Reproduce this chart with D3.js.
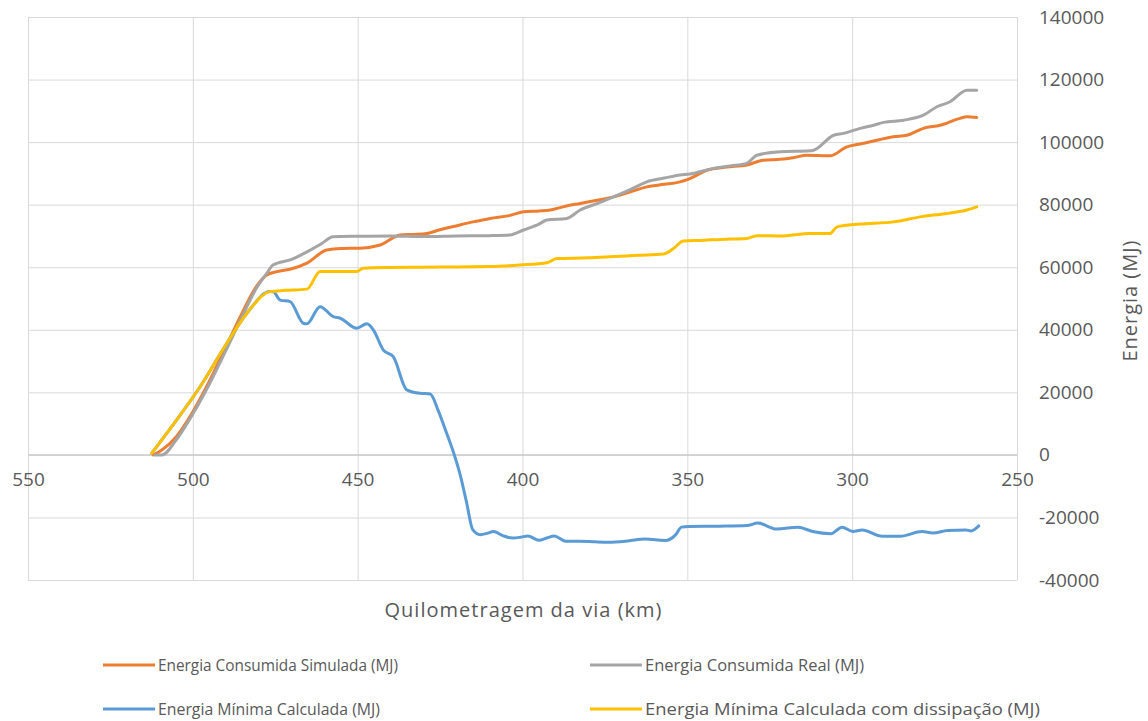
<!DOCTYPE html>
<html>
<head>
<meta charset="utf-8">
<script src="https://cdn.jsdelivr.net/npm/d3@7"></script>
<style>
  html, body { margin: 0; padding: 0; background: #ffffff; }
  svg { display: block; }
  text { font-family: "Open Sans", "Noto Sans", sans-serif; fill: #595959; }
</style>
</head>
<body>
<svg id="chart" width="1148" height="721"></svg>
<script>
// Axis ticks
const xTicks = [550, 500, 450, 400, 350, 300, 250];
const yTicks = [-40000, -20000, 0, 20000, 40000, 60000, 80000, 100000, 120000, 140000];

// Energia Consumida Simulada (MJ)
const kmSimulada = [512, 509.5, 505, 501, 496, 490, 485, 480.6, 477.6, 474.5, 470, 465.4, 459.4, 455, 449.3, 443.2, 437.1, 433.1, 429, 425, 421, 415, 409.8, 404, 399.7, 395, 391.6, 387, 382.5, 377, 372.4, 367, 362.3, 357, 352.2, 350.2, 347, 344.1, 338, 332, 326.9, 321.8, 318, 313.7, 306.7, 301.6, 298, 294.5, 287.5, 283.4, 278.4, 273.3, 267.3, 265.2, 262.2];
const energiaSimulada = [0, 1500, 5800, 12000, 21500, 34500, 45500, 54000, 57500, 58600, 59500, 61300, 65500, 66000, 66100, 67100, 70300, 70500, 70800, 72000, 73000, 74500, 75600, 76500, 77700, 78000, 78300, 79500, 80400, 81500, 82500, 84200, 85700, 86500, 87300, 87900, 89500, 91000, 92000, 92700, 94200, 94500, 95000, 95800, 95600, 98500, 99300, 100100, 101700, 102200, 104400, 105400, 107600, 108100, 107900];

// Energia Consumida Real (MJ)
const kmReal = [511.5, 509.4, 504.9, 500.9, 495.8, 489.7, 484.7, 480.6, 477.6, 475.7, 470, 465.4, 461, 457.5, 450, 440, 430, 420, 410, 403.8, 399.7, 395, 392.6, 386.6, 382.5, 377, 372.4, 367, 362.3, 357, 352.2, 349.2, 342.1, 337, 332, 328.9, 321.8, 312.7, 311.7, 305.6, 302.6, 297.6, 293.5, 290.5, 284.4, 278.4, 274.3, 270.3, 265.2, 262.2];
const energiaReal = [0, 0, 5000, 11500, 21000, 34000, 45000, 53500, 58000, 60700, 62500, 64900, 67500, 69750, 69900, 70000, 69800, 70000, 70100, 70300, 71900, 73800, 75100, 75600, 78300, 80500, 82500, 85000, 87300, 88500, 89500, 89800, 91600, 92400, 93200, 95800, 96900, 97200, 97400, 102200, 102800, 104400, 105400, 106300, 107000, 108600, 111300, 112900, 116600, 116600];

// Energia Mínima Calculada (MJ)
const kmMinima = [512.5, 504.9, 497.8, 489.7, 483.6, 476.6, 475.6, 473.5, 470.5, 466.5, 465.4, 461.4, 457.4, 455.3, 450.3, 447.2, 445.2, 442.2, 439.2, 435.1, 431.1, 428, 425.5, 423, 421, 419, 417, 415.1, 412.8, 410.5, 408.8, 406, 403, 400.5, 398.4, 395, 392.5, 390.4, 386.9, 382.8, 378, 373.9, 368, 362.8, 356.8, 353.5, 351.8, 349.6, 340, 331.9, 328.6, 323, 316.4, 312, 306.4, 303.1, 299.8, 297, 290.9, 285.4, 278.8, 275.5, 271.1, 265.5, 263.9, 261.6];
const energiaMinima = [500, 11200, 21800, 35700, 45300, 52200, 52170, 49500, 49000, 42100, 41900, 47400, 44200, 43700, 40500, 41900, 39900, 33500, 31400, 20800, 19700, 19500, 14000, 6900, 1000, -6000, -15000, -23900, -25500, -25000, -24500, -25800, -26600, -26300, -25900, -27300, -26500, -25900, -27600, -27600, -27800, -27900, -27500, -26900, -27400, -25500, -23100, -22900, -22800, -22600, -21800, -23700, -23100, -24500, -25200, -23100, -24500, -24000, -26000, -26000, -24500, -25000, -24200, -24000, -24300, -22700];

// Energia Mínima Calculada com dissipação (MJ)
const kmDissipacao = [512.5, 504.9, 497.8, 489.7, 483.6, 476.6, 472, 465.4, 461.4, 450.3, 448.3, 440, 430, 420, 409.8, 400.7, 392.6, 389.6, 380, 372.4, 365, 357.2, 354.2, 351.2, 345, 340, 332, 328.9, 321.8, 312.7, 306.7, 304.6, 297.6, 287.5, 279.4, 271.3, 265.2, 262.2];
const energiaDissipacao = [500, 11200, 21800, 35700, 45300, 52200, 52600, 53000, 58600, 58600, 59700, 59900, 60000, 60100, 60200, 60700, 61400, 62800, 63000, 63400, 63800, 64200, 66000, 68400, 68600, 68900, 69200, 70100, 70000, 70800, 70800, 72900, 73800, 74500, 76100, 77200, 78300, 79300];

const seriesNames = [
  "Energia Consumida Simulada (MJ)",
  "Energia Consumida Real (MJ)",
  "Energia Mínima Calculada (MJ)",
  "Energia Mínima Calculada com dissipação (MJ)"
];
const seriesColors = ["#ED7D31", "#A5A5A5", "#5B9BD5", "#FFC000"];

const series = [
  { name: seriesNames[0], color: seriesColors[0], km: kmSimulada, val: energiaSimulada },
  { name: seriesNames[1], color: seriesColors[1], km: kmReal, val: energiaReal },
  { name: seriesNames[2], color: seriesColors[2], km: kmMinima, val: energiaMinima },
  { name: seriesNames[3], color: seriesColors[3], km: kmDissipacao, val: energiaDissipacao }
];

const svg = d3.select("#chart");
const plot = { left: 28, right: 1017, top: 17, bottom: 580 };

const x = d3.scaleLinear().domain([550, 250]).range([plot.left, plot.right]);
const y = d3.scaleLinear().domain([-40000, 140000]).range([plot.bottom, plot.top]);

// Plain hyphen for negatives, no thousands separator
const fmt = d => String(d);

// Horizontal gridlines
svg.append("g")
  .attr("transform", `translate(${plot.left},0)`)
  .call(d3.axisLeft(y).tickValues(yTicks).tickSize(-(plot.right - plot.left)).tickFormat(""))
  .call(g => g.select(".domain").remove())
  .call(g => g.selectAll("line").attr("stroke", "#d9d9d9").attr("stroke-width", 1));

// Vertical gridlines
svg.append("g")
  .attr("transform", `translate(0,${plot.bottom})`)
  .call(d3.axisBottom(x).tickValues(xTicks).tickSize(-(plot.bottom - plot.top)).tickFormat(""))
  .call(g => g.select(".domain").remove())
  .call(g => g.selectAll("line").attr("stroke", "#d9d9d9").attr("stroke-width", 1));

// Horizontal axis crossing at zero
svg.append("line")
  .attr("x1", plot.left).attr("x2", plot.right)
  .attr("y1", y(0)).attr("y2", y(0))
  .attr("stroke", "#bfbfbf").attr("stroke-width", 1);

// X tick labels under the zero line
svg.append("g")
  .attr("transform", `translate(0,${y(0)})`)
  .call(d3.axisBottom(x).tickValues(xTicks).tickSize(0).tickPadding(18).tickFormat(fmt))
  .call(g => g.select(".domain").remove())
  .call(g => g.selectAll("text")
    .style("font-family", "'Open Sans', sans-serif")
    .style("font-size", "19px")
    .attr("fill", "#595959"));

// Y tick labels on the right
svg.append("g")
  .attr("transform", `translate(${plot.right},0)`)
  .call(d3.axisRight(y).tickValues(yTicks).tickSize(0).tickPadding(22).tickFormat(fmt))
  .call(g => g.select(".domain").remove())
  .call(g => g.selectAll("text")
    .style("font-family", "'Open Sans', sans-serif")
    .style("font-size", "19px")
    .attr("fill", "#595959"));

// Lines
const line = d3.line()
  .x(d => x(d[0]))
  .y(d => y(d[1]))
  .curve(d3.curveMonotoneX);

series.forEach(s => {
  const pts = s.km.map((k, i) => [k, s.val[i]]);
  svg.append("path")
    .datum(pts)
    .attr("fill", "none")
    .attr("stroke", s.color)
    .attr("stroke-width", 3)
    .attr("stroke-linejoin", "round")
    .attr("stroke-linecap", "round")
    .attr("d", line);
});

// Axis titles
svg.append("text")
  .attr("x", 523).attr("y", 617)
  .attr("text-anchor", "middle")
  .attr("textLength", 277)
  .attr("lengthAdjust", "spacing")
  .style("font-size", "20px")
  .text("Quilometragem da via (km)");

svg.append("text")
  .attr("transform", "translate(1137,301) rotate(-90)")
  .attr("text-anchor", "middle")
  .attr("textLength", 121)
  .attr("lengthAdjust", "spacing")
  .style("font-size", "20px")
  .text("Energia (MJ)");

// Legend
const legendItems = [
  { i: 0, lx: 103, ty: 665, w: 240 },
  { i: 1, lx: 590, ty: 665, w: 219 },
  { i: 2, lx: 103, ty: 709, w: 222 },
  { i: 3, lx: 590, ty: 709, w: 395 }
];
legendItems.forEach(item => {
  const g = svg.append("g");
  g.append("line")
    .attr("x1", item.lx).attr("x2", item.lx + 52)
    .attr("y1", item.ty).attr("y2", item.ty)
    .attr("stroke", seriesColors[item.i])
    .attr("stroke-width", 3);
  g.append("text")
    .attr("x", item.lx + 55).attr("y", item.ty + 6)
    .attr("textLength", item.w)
    .attr("lengthAdjust", "spacingAndGlyphs")
    .style("font-size", "17px")
    .text(seriesNames[item.i]);
});
</script>
</body>
</html>
